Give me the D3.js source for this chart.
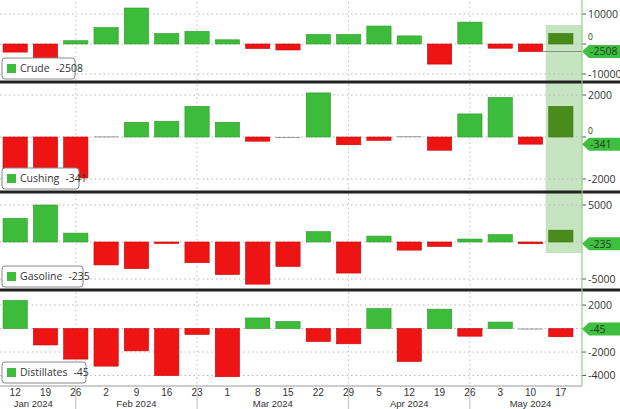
<!DOCTYPE html>
<html><head><meta charset="utf-8">
<script src="https://cdn.jsdelivr.net/npm/d3@7"></script>
<style>html,body{margin:0;padding:0;background:#fff;}svg{display:block;font-family:"Open Sans","DejaVu Sans",sans-serif;}</style>
</head><body>
<svg id="c" width="620" height="409"></svg>
<script>
const dayLabels = ["12","19","26","2","9","16","23","1","8","15","22","29","5","12","19","26","3","10","17"];
const monthLabels = ["Jan 2024","Feb 2024","Mar 2024","Apr 2024","May 2024"];
const monthLabelAt = [0.6, 4, 8.5, 13, 17]; // positions in week index units
const monthSeparatorsAt = [2, 6, 11, 15];

const crude = [-2700,-5200,1100,5500,12000,3500,4200,1400,-1500,-2000,3200,3200,6000,2700,-6700,7300,-1400,-2508,3500];
const cushing = [-2050,-1950,-1950,30,700,750,1460,700,-200,-20,2100,-370,-160,40,-630,1100,1890,-341,1460];
const gasoline = [3200,5000,1200,-3100,-3600,-200,-2800,-4400,-5700,-3300,1400,-4200,800,-1100,-600,400,1000,-235,1600];
const distillates = [2400,-1400,-2600,-3200,-1900,-4000,-500,-4100,900,600,-1100,-1300,1700,-2800,1650,-650,550,-45,-700];

const seriesNames = ["Crude","Cushing","Gasoline","Distillates"];
const seriesValues = [crude, cushing, gasoline, distillates];
const latestLabels = ["-2508","-341","-235","-45"];
const tickValues = [[10000,0,-10000],[2000,0,-2000],[5000,-5000],[2000,-2000,-4000]];
const tickLabels = [["10000","0","-10000"],["2000","0","-2000"],["5000","-5000"],["2000","-2000","-4000"]];
const latestValues = [-2508,-341,-235,-45];

// layout
const panels = [
  {top:0, bottom:82, domain:[-12667,14667], highlighted:true},
  {top:82, bottom:192, domain:[-2620,2620], highlighted:true},
  {top:192, bottom:290, domain:[-6490,6760], highlighted:true},
  {top:290, bottom:386, domain:[-4890,3280], highlighted:false}
];
const plotRight = 582;
const GREEN = "#3dbb3a", RED = "#ee1414", DARK = "#4a8c1c";
const AXIS_FONT = "'Liberation Sans', Arial, sans-serif";

const svg = d3.select("#c");
const x = d3.scaleBand().domain(d3.range(dayLabels.length)).range([0,576]).paddingInner(0.2).paddingOuter(0.1);
const xc = i => x(i) + x.bandwidth()/2;
const n = dayLabels.length;

// highlight
svg.append("rect").attr("x", x(n-1)-3).attr("width", plotRight - x(n-1) + 3)
  .attr("y", 25).attr("height", 228).attr("fill", "#c4e5bf");

panels.forEach((p, k) => {
  const y = d3.scaleLinear().domain(p.domain).range([p.bottom, p.top]);
  const g = svg.append("g");
  const grid = v => g.append("line").attr("x1",0).attr("x2",plotRight).attr("y1",y(v)).attr("y2",y(v))
      .attr("stroke","#b8b8b8").attr("stroke-width",1).attr("stroke-dasharray","1.5,3");
  tickValues[k].forEach(grid);
  if (!tickValues[k].includes(0)) grid(0);
  monthSeparatorsAt.forEach(i => {
    g.append("line").attr("x1",xc(i)).attr("x2",xc(i)).attr("y1",p.top+2).attr("y2",p.bottom-2)
      .attr("stroke","#c0c0c0").attr("stroke-dasharray","1.5,3");
  });
  const vals = seriesValues[k];
  const fillOf = (d,i) => {
    if (Math.abs(d) < 60) return "#9a9a9a";
    if (i===n-1 && p.highlighted) return d>=0 ? DARK : "#b01010";
    return d>=0 ? GREEN : RED;
  };
  const strokeOf = (d,i) => {
    if (Math.abs(d) < 60) return "none";
    if (i===n-1 && p.highlighted) return "#3d7416";
    return d>=0 ? "#2f9a2c" : "#c00";
  };
  g.selectAll("rect.bar").data(vals).enter().append("rect")
    .attr("x",(d,i)=>x(i)).attr("width",x.bandwidth())
    .attr("y",d=>y(Math.max(0,d))).attr("height",d=>Math.max(1,Math.abs(y(d)-y(0))))
    .attr("fill",fillOf).attr("stroke",strokeOf).attr("stroke-width",0.6);
  if (k===0) {
    g.append("line").attr("x1",x(n-2)+x.bandwidth()).attr("x2",plotRight)
      .attr("y1",y(latestValues[k])).attr("y2",y(latestValues[k])).attr("stroke","#777").attr("stroke-width",0.8);
  }
  tickValues[k].forEach((v,j) => {
    g.append("line").attr("x1",plotRight).attr("x2",plotRight+4).attr("y1",y(v)).attr("y2",y(v)).attr("stroke","#555");
    const isZero = v === 0;
    g.append("text").attr("x",plotRight+6).attr("y", isZero ? y(v)-3.5 : y(v)).attr("dy", isZero ? "0" : "0.35em")
      .attr("font-size", isZero ? 8.5 : 10.5).attr("fill","#333").text(tickLabels[k][j]);
  });
  const ty = y(latestValues[k]);
  g.append("path").attr("d",`M${plotRight},${ty} L${plotRight+7},${ty-6.5} L620,${ty-6.5} L620,${ty+6.5} L${plotRight+7},${ty+6.5} Z`)
    .attr("fill","#3fbf3f");
  g.append("text").attr("x",plotRight+8).attr("y",ty).attr("dy","0.36em").attr("font-size",10.5)
    .attr("fill","#1d3d1d").text(latestLabels[k]);
  const lx = 2, lw = [73,77,81,84][k], lh = 21, ly = p.bottom - lh - 3;
  g.append("rect").attr("x",lx).attr("y",ly).attr("width",lw).attr("height",lh).attr("rx",3)
    .attr("fill","#fff").attr("stroke","#888").attr("stroke-width",1);
  g.append("rect").attr("x",lx+5).attr("y",ly+6).attr("width",9).attr("height",9).attr("fill",GREEN);
  const nameText = g.append("text").attr("x",lx+18).attr("y",ly+lh/2).attr("dy","0.36em").attr("font-size",10.5)
    .attr("fill","#333").text(seriesNames[k]);
  const w = nameText.node().getComputedTextLength();
  g.append("text").attr("x",lx+18+w+6).attr("y",ly+lh/2).attr("dy","0.36em").attr("font-size",10.5)
    .attr("fill","#333").text(latestLabels[k]);
});

[82,192,290].forEach(yy => {
  svg.append("line").attr("x1",0).attr("x2",620).attr("y1",yy).attr("y2",yy).attr("stroke","#222").attr("stroke-width",3);
});
svg.append("line").attr("x1",0).attr("x2",plotRight).attr("y1",386).attr("y2",386).attr("stroke","#999").attr("stroke-width",1);
svg.append("line").attr("x1",plotRight).attr("x2",plotRight).attr("y1",0).attr("y2",386).attr("stroke","#8fd08c").attr("stroke-width",1.2);

svg.selectAll("text.day").data(dayLabels).enter().append("text")
  .attr("x",(d,i)=>xc(i)).attr("y",396).attr("text-anchor","middle").style("font-family",AXIS_FONT)
  .attr("font-size",10).attr("fill","#333").text(d=>d);
svg.selectAll("text.month").data(monthLabels).enter().append("text")
  .attr("x",(d,i)=>xc(0) + monthLabelAt[i]*x.step()).attr("y",407).attr("text-anchor","middle").style("font-family",AXIS_FONT)
  .attr("font-size",9.5).attr("fill","#333").text(d=>d);
monthSeparatorsAt.forEach(i => {
  svg.append("line").attr("x1",xc(i)).attr("x2",xc(i)).attr("y1",386).attr("y2",409).attr("stroke","#bbb");
});
</script>
</body></html>
